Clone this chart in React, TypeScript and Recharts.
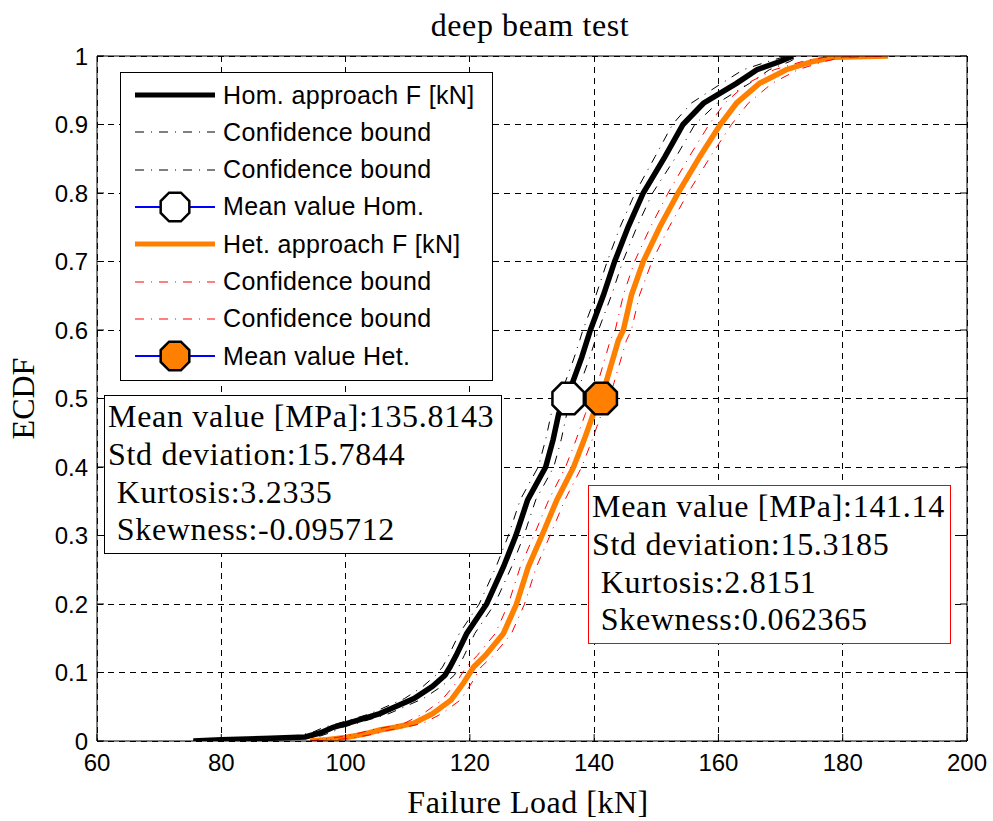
import React from 'react'
import {
  ComposedChart,
  Line,
  Scatter,
  XAxis,
  YAxis,
  CartesianGrid,
  Label,
} from 'recharts'

// ECDF of the homogeneous approach (Failure Load [kN] vs probability)
const homY = [
  0, 0.002, 0.004, 0.006, 0.012, 0.02, 0.025, 0.033, 0.04, 0.05, 0.062, 0.08,
  0.096, 0.108, 0.125, 0.157, 0.2, 0.254, 0.3, 0.352, 0.4, 0.44, 0.478, 0.52,
  0.56, 0.6, 0.651, 0.7, 0.751, 0.8, 0.853, 0.9, 0.931, 0.96, 0.98, 0.992, 1,
]
const homX = [
  75.5, 80, 88, 93.5, 96, 98, 100, 103, 105.5, 108, 111, 114, 116, 116.8,
  117.8, 119.5, 122.7, 125.4, 127.4, 129.3, 132.2, 133.4, 134.3, 136.4, 138,
  139.4, 141.5, 143.3, 145.5, 147.9, 151.4, 154.3, 157.6, 162.9, 166.2, 169.9,
  172,
]
const homLoX = [
  75.5, 79, 86, 91, 94.5, 96.5, 98.5, 101.5, 104, 106.5, 109.5, 112.5, 114.5,
  115.6, 116.6, 118.3, 121.5, 124.2, 126.2, 128.1, 131, 132.2, 133.1, 135.2,
  136.8, 138.2, 140.3, 142.1, 144.2, 146.6, 149.8, 152.6, 155.6, 160.5, 164,
  168, 171,
]
const homHiX = [
  76.5, 82, 90, 95.5, 97.5, 99.5, 101.5, 104.5, 107, 109.5, 112.5, 115.5, 117.5,
  118.2, 119.1, 120.8, 124, 126.7, 128.7, 130.6, 133.5, 134.7, 135.6, 137.7,
  139.3, 140.7, 142.8, 144.6, 146.9, 149.4, 153.2, 156.2, 159.8, 165, 168.2,
  171.5, 173,
]

// ECDF of the heterogeneous approach
const hetY = [
  0, 0.002, 0.005, 0.01, 0.016, 0.02, 0.026, 0.04, 0.06, 0.085, 0.108, 0.125,
  0.157, 0.2, 0.254, 0.3, 0.352, 0.4, 0.44, 0.478, 0.52, 0.585, 0.6, 0.651, 0.7,
  0.751, 0.8, 0.853, 0.9, 0.931, 0.96, 0.98, 0.992, 0.998, 1,
]
const hetX = [
  94.3, 97, 100, 103, 105.5, 108, 111, 114, 117, 119, 120.6, 122.5, 125.4,
  127.5, 129.4, 131.6, 134, 136.7, 138.4, 139.9, 141.8, 143.9, 144.7, 146,
  147.9, 150.6, 153.5, 157, 160.3, 162.9, 166.6, 170.9, 175.2, 178.4, 187.3,
]
const hetLoX = [
  94.3, 96, 98.5, 101.5, 104, 106.5, 109.5, 112.5, 115.5, 117.8, 119.4, 121.2,
  124.1, 126.2, 128.1, 130.3, 132.7, 135.4, 137.1, 138.6, 140.5, 142.6, 143.4,
  144.7, 146.5, 149.1, 151.9, 155.3, 158.5, 161, 164.6, 169, 173.5, 177, 186,
]
const hetHiX = [
  95, 98.5, 101.5, 104.5, 107, 109.5, 112.5, 115.5, 118.5, 120.3, 121.8, 123.8,
  126.7, 128.8, 130.7, 132.9, 135.3, 138, 139.7, 141.2, 143.1, 145.2, 146,
  147.3, 149.3, 152.1, 155.1, 158.7, 162.1, 164.8, 168.6, 172.8, 177, 180, 188,
]

const homMean = 135.8143
const hetMean = 141.14

const xTicks = [60, 80, 100, 120, 140, 160, 180, 200]
const yTicks = [0, 0.1, 0.2, 0.3, 0.4, 0.5, 0.6, 0.7, 0.8, 0.9, 1]

const legendItems = [
  'Hom. approach F [kN]',
  'Confidence bound',
  'Confidence bound',
  'Mean value Hom.',
  'Het. approach F [kN]',
  'Confidence bound',
  'Confidence bound',
  'Mean value Het.',
]

const homStats = [
  'Mean value [MPa]:135.8143',
  'Std deviation:15.7844',
  ' Kurtosis:3.2335',
  ' Skewness:-0.095712',
]
const hetStats = [
  'Mean value [MPa]:141.14',
  'Std deviation:15.3185',
  ' Kurtosis:2.8151',
  ' Skewness:0.062365',
]

const ORANGE = '#ff8000'
const SANS = '"Liberation Sans", Arial, sans-serif'
const SERIF = '"Liberation Serif", "Times New Roman", serif'

const toPts = (xs: number[], ys: number[]) =>
  xs.map((x, i) => ({ x, y: ys[i] }))

const homData = toPts(homX, homY)
const homLo = toPts(homLoX, homY)
const homHi = toPts(homHiX, homY)
const hetData = toPts(hetX, hetY)
const hetLo = toPts(hetLoX, hetY)
const hetHi = toPts(hetHiX, hetY)

function octagonPoints(cx: number, cy: number, r: number) {
  const pts: string[] = []
  for (let k = 0; k < 8; k++) {
    const a = ((22.5 + k * 45) * Math.PI) / 180
    pts.push(`${cx + r * Math.cos(a)},${cy + r * Math.sin(a)}`)
  }
  return pts.join(' ')
}

function Octagon({ cx, cy, fill }: { cx?: number; cy?: number; fill: string }) {
  if (cx == null || cy == null) return null
  return (
    <polygon
      points={octagonPoints(cx, cy, 17)}
      fill={fill}
      stroke="#000"
      strokeWidth={2.5}
    />
  )
}

function LegendSample({ index }: { index: number }) {
  const y = 10
  switch (index) {
    case 0:
      return <line x1={0} y1={y} x2={80} y2={y} stroke="#000" strokeWidth={5} />
    case 4:
      return <line x1={0} y1={y} x2={80} y2={y} stroke={ORANGE} strokeWidth={5} />
    case 1:
    case 2:
    case 5:
    case 6:
      return (
        <line
          x1={0}
          y1={y}
          x2={80}
          y2={y}
          stroke={index < 4 ? '#000' : '#ff0000'}
          strokeWidth={1}
          strokeDasharray="9 7 1 7"
        />
      )
    default:
      return (
        <g>
          <line x1={0} y1={y} x2={80} y2={y} stroke="#0000ff" strokeWidth={2} />
          <polygon
            points={octagonPoints(40, y, 15.5)}
            fill={index === 3 ? '#fff' : ORANGE}
            stroke="#000"
            strokeWidth={2.5}
          />
        </g>
      )
  }
}

function StatsBox({
  lines,
  left,
  top,
  width,
  height,
  color,
}: {
  lines: string[]
  left: number
  top: number
  width: number
  height: number
  color: string
}) {
  return (
    <div
      style={{
        position: 'absolute',
        left,
        top,
        width,
        height,
        boxSizing: 'border-box',
        border: `1.5px solid ${color}`,
        background: '#fff',
        fontFamily: SERIF,
        fontSize: 32,
        letterSpacing: 0.7,
        lineHeight: '37.8px',
        padding: '2px 0 0 3px',
        whiteSpace: 'pre',
        color: '#000',
      }}
    >
      {lines.map((t, i) => (
        <div key={i}>{t}</div>
      ))}
    </div>
  )
}

export default function App() {
  const tickStyle = { fontFamily: SANS, fontSize: 24, fill: '#000' }

  return (
    <div
      style={{
        position: 'absolute',
        left: 0,
        top: 0,
        width: 993,
        height: 821,
        background: '#fff',
      }}
    >
      <div
        style={{
          position: 'absolute',
          left: 0,
          top: 7,
          width: 1060,
          textAlign: 'center',
          fontFamily: SERIF,
          fontSize: 32,
          letterSpacing: 0.6,
          color: '#000',
        }}
      >
        deep beam test
      </div>

      <ComposedChart
        width={993}
        height={821}
        margin={{ top: 26, right: 0, bottom: 0, left: 0 }}
        style={{ position: 'absolute', left: 0, top: 0 }}
      >
        <CartesianGrid
          stroke="#000"
          strokeWidth={1}
          strokeDasharray="6 5"
          shapeRendering="crispEdges"
          horizontalValues={yTicks}
          verticalValues={xTicks}
        />
        <XAxis
          dataKey="x"
          type="number"
          domain={[60, 200]}
          ticks={xTicks}
          height={80}
          tickSize={-7}
          tickMargin={20}
          tick={tickStyle}
          stroke="#000"
          allowDataOverflow
        >
          <Label
            value="Failure Load [kN]"
            position="insideBottom"
            offset={8}
            dx={-4}
            style={{ fontFamily: SERIF, fontSize: 32, letterSpacing: 0.5, fill: '#000' }}
          />
        </XAxis>
        <XAxis
          xAxisId="top"
          orientation="top"
          type="number"
          domain={[60, 200]}
          ticks={xTicks}
          height={30}
          tickSize={-7}
          tickFormatter={() => ''}
          stroke="#000"
          allowDataOverflow
        />
        <YAxis
          type="number"
          domain={[0, 1]}
          ticks={yTicks}
          width={97}
          tickSize={-7}
          tickMargin={16}
          tick={tickStyle}
          tickFormatter={(v: number) => String(Number(v.toFixed(1)))}
          stroke="#000"
          allowDataOverflow
        >
          <Label
            value="ECDF"
            angle={-90}
            position="insideLeft"
            offset={23}
            style={{ fontFamily: SERIF, fontSize: 32, fill: '#000', textAnchor: 'middle' }}
          />
        </YAxis>
        <YAxis
          yAxisId="right"
          orientation="right"
          type="number"
          domain={[0, 1]}
          ticks={yTicks}
          width={26}
          tickSize={-7}
          tickFormatter={() => ''}
          stroke="#000"
          allowDataOverflow
        />

        <Line
          data={homData}
          dataKey="y"
          type="linear"
          stroke="#000"
          strokeWidth={5.5}
          dot={false}
          isAnimationActive={false}
        />
        <Line
          data={homLo}
          dataKey="y"
          type="linear"
          stroke="#000"
          strokeWidth={1}
          strokeDasharray="9 7 1 7"
          dot={false}
          isAnimationActive={false}
        />
        <Line
          data={homHi}
          dataKey="y"
          type="linear"
          stroke="#000"
          strokeWidth={1}
          strokeDasharray="9 7 1 7"
          dot={false}
          isAnimationActive={false}
        />
        <Line
          data={hetData}
          dataKey="y"
          type="linear"
          stroke={ORANGE}
          strokeWidth={5.5}
          dot={false}
          isAnimationActive={false}
        />
        <Line
          data={hetLo}
          dataKey="y"
          type="linear"
          stroke="#ff0000"
          strokeWidth={1}
          strokeDasharray="9 7 1 7"
          dot={false}
          isAnimationActive={false}
        />
        <Line
          data={hetHi}
          dataKey="y"
          type="linear"
          stroke="#ff0000"
          strokeWidth={1}
          strokeDasharray="9 7 1 7"
          dot={false}
          isAnimationActive={false}
        />
        <Scatter
          data={[{ x: homMean, y: 0.5 }]}
          dataKey="y"
          shape={(p: any) => <Octagon cx={p.cx} cy={p.cy} fill="#fff" />}
          isAnimationActive={false}
        />
        <Scatter
          data={[{ x: hetMean, y: 0.5 }]}
          dataKey="y"
          shape={(p: any) => <Octagon cx={p.cx} cy={p.cy} fill={ORANGE} />}
          isAnimationActive={false}
        />
      </ComposedChart>

      {/* Legend */}
      <div
        style={{
          position: 'absolute',
          left: 120,
          top: 72,
          width: 373,
          height: 309,
          boxSizing: 'border-box',
          border: '1.5px solid #000',
          background: '#fff',
        }}
      >
        {legendItems.map((name, i) => (
          <div
            key={i}
            style={{
              position: 'absolute',
              left: 14,
              top: 8 + i * 37.3,
              height: 28,
              display: 'flex',
              alignItems: 'center',
            }}
          >
            <svg width={80} height={20} style={{ overflow: 'visible' }}>
              <LegendSample index={i} />
            </svg>
            <span
              style={{
                marginLeft: 8,
                fontFamily: SANS,
                fontSize: 25,
                letterSpacing: 0.35,
                color: '#000',
                whiteSpace: 'nowrap',
              }}
            >
              {name}
            </span>
          </div>
        ))}
      </div>

      <StatsBox lines={homStats} left={104} top={395} width={398} height={159} color="#000" />
      <StatsBox lines={hetStats} left={588} top={485} width={363} height={159} color="#ff0000" />
    </div>
  )
}
